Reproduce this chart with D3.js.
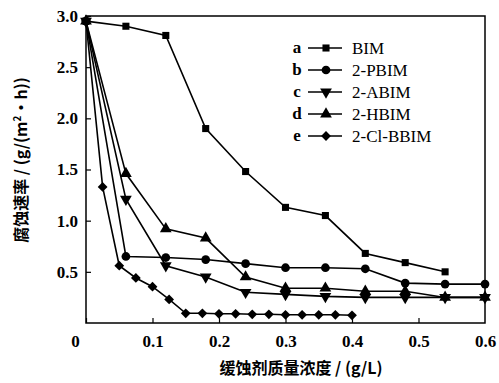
<!DOCTYPE html>
<html><head><meta charset="utf-8">
<script src="https://cdn.jsdelivr.net/npm/d3@7"></script>
<style>body{margin:0;background:#fff} .tk{font-family:'Liberation Serif','Times New Roman',serif !important;font-weight:bold;font-size:17px}</style>
</head><body><svg id="c" width="499" height="383"></svg>
<script>
const xTicks = [0, 0.1, 0.2, 0.3, 0.4, 0.5, 0.6];
const yTicks = [0.5, 1.0, 1.5, 2.0, 2.5, 3.0];
const seriesNames = ["BIM", "2-PBIM", "2-ABIM", "2-HBIM", "2-Cl-BBIM"];
const seriesLetters = ["a", "b", "c", "d", "e"];
const xA = [0, 0.06, 0.12, 0.18, 0.24, 0.30, 0.36, 0.42, 0.48, 0.54];
const yA = [2.95, 2.90, 2.81, 1.90, 1.48, 1.13, 1.05, 0.68, 0.59, 0.50];
const xB = [0, 0.06, 0.12, 0.18, 0.24, 0.30, 0.36, 0.42, 0.48, 0.54, 0.60];
const yB = [2.95, 0.65, 0.64, 0.62, 0.58, 0.54, 0.54, 0.53, 0.39, 0.38, 0.38];
const xC = [0, 0.06, 0.12, 0.18, 0.24, 0.30, 0.36, 0.42, 0.48, 0.54, 0.60];
const yC = [2.95, 1.21, 0.56, 0.45, 0.30, 0.28, 0.26, 0.25, 0.25, 0.25, 0.25];
const xD = [0, 0.06, 0.12, 0.18, 0.24, 0.30, 0.36, 0.42, 0.48, 0.54, 0.60];
const yD = [2.95, 1.46, 0.92, 0.83, 0.45, 0.34, 0.34, 0.31, 0.31, 0.25, 0.25];
const xE = [0, 0.025, 0.05, 0.075, 0.10, 0.125, 0.15, 0.175, 0.20, 0.225, 0.25, 0.275, 0.30, 0.325, 0.35, 0.375, 0.40];
const yE = [2.95, 1.33, 0.56, 0.44, 0.355, 0.23, 0.095, 0.095, 0.09, 0.09, 0.085, 0.085, 0.08, 0.08, 0.08, 0.08, 0.075];

const seriesX = [xA, xB, xC, xD, xE];
const seriesY = [yA, yB, yC, yD, yE];
const symbols = [d3.symbolSquare, d3.symbolCircle, d3.symbolTriangle, d3.symbolTriangle, d3.symbolSquare];
const symSize = [50, 60, 60, 60, 48];
const symRot = [0, 0, 180, 0, 45];

const svg = d3.select("#c");
const L = 86, R = 485, T = 16, B = 323;
const x = d3.scaleLinear().domain([0, 0.6]).range([L, R]);
const y = d3.scaleLinear().domain([0, 3.0]).range([B, T]);
const font = "'Liberation Serif', 'Times New Roman', serif";

// frame
svg.append("rect").attr("x", L).attr("y", T).attr("width", R - L).attr("height", B - T)
  .attr("fill", "none").attr("stroke", "#000").attr("stroke-width", 1.5);

// axes
const xAxis = d3.axisBottom(x).tickValues(xTicks).tickSizeInner(-5).tickSizeOuter(0)
  .tickFormat(d => d === 0 ? "0" : d3.format(".1f")(d));
const gx = svg.append("g").attr("transform", `translate(0,${B})`).call(xAxis)
  .attr("font-family", font).attr("font-size", 17);
gx.select(".domain").remove();
gx.selectAll("line").attr("stroke-width", 1.2);
gx.selectAll("text").attr("class", "tk").attr("dy", 0).attr("y", 24).attr("fill", "#000");
gx.selectAll(".tick").filter(d => d === 0).select("text").attr("dx", -11);
gx.selectAll(".tick").filter(d => d === 0.6).select("line").remove();

const yAxis = d3.axisLeft(y).tickValues(yTicks).tickSizeInner(-5).tickSizeOuter(0)
  .tickFormat(d3.format(".1f"));
const gy = svg.append("g").attr("transform", `translate(${L},0)`).call(yAxis)
  .attr("font-family", font).attr("font-size", 17);
gy.select(".domain").remove();
gy.selectAll("line").attr("stroke-width", 1.2);
gy.selectAll("text").attr("class", "tk").attr("x", -8).attr("fill", "#000");

// series
const line = d3.line().x(d => x(d[0])).y(d => y(d[1]));
seriesX.forEach((xs, i) => {
  const pts = xs.map((v, j) => [v, seriesY[i][j]]);
  svg.append("path").datum(pts).attr("d", line).attr("fill", "none")
    .attr("stroke", "#000").attr("stroke-width", 1.6);
  svg.selectAll(null).data(pts).enter().append("path")
    .attr("d", d3.symbol().type(symbols[i]).size(symSize[i]))
    .attr("transform", d => `translate(${x(d[0])},${y(d[1])}) rotate(${symRot[i]})`)
    .attr("fill", "#000");
});

// legend
const lg = svg.append("g");
seriesNames.forEach((n, i) => {
  const yy = 48 + i * 22;
  lg.append("text").attr("x", 297).attr("y", yy + 5).attr("text-anchor", "middle")
    .style("font-family", font).style("font-size", "17px").style("font-weight", "bold").text(seriesLetters[i]);
  lg.append("line").attr("x1", 308).attr("x2", 342).attr("y1", yy).attr("y2", yy)
    .attr("stroke", "#000").attr("stroke-width", 1.6);
  lg.append("path").attr("d", d3.symbol().type(symbols[i]).size(symSize[i]))
    .attr("transform", `translate(326,${yy}) rotate(${symRot[i]})`).attr("fill", "#000");
  lg.append("text").attr("x", 352).attr("y", yy + 6)
    .style("font-family", font).style("font-size", "17px").text(n);
});

// axis titles
svg.append("text").attr("x", 301).attr("y", 374).attr("text-anchor", "middle")
  .style("font-family", "'Noto Sans CJK SC', sans-serif").style("font-size", "16px").style("font-weight", "bold")
  .text("缓蚀剂质量浓度 / (g/L)");
svg.append("text").attr("transform", "translate(27,160) rotate(-90)").attr("text-anchor", "middle")
  .style("font-family", "'Noto Sans CJK SC', sans-serif").style("font-size", "16px").style("font-weight", "bold")
  .html("腐蚀速率 / (g/(m<tspan dy='-6' font-size='10'>2</tspan><tspan dy='6'>·h))</tspan>");
</script></body></html>
